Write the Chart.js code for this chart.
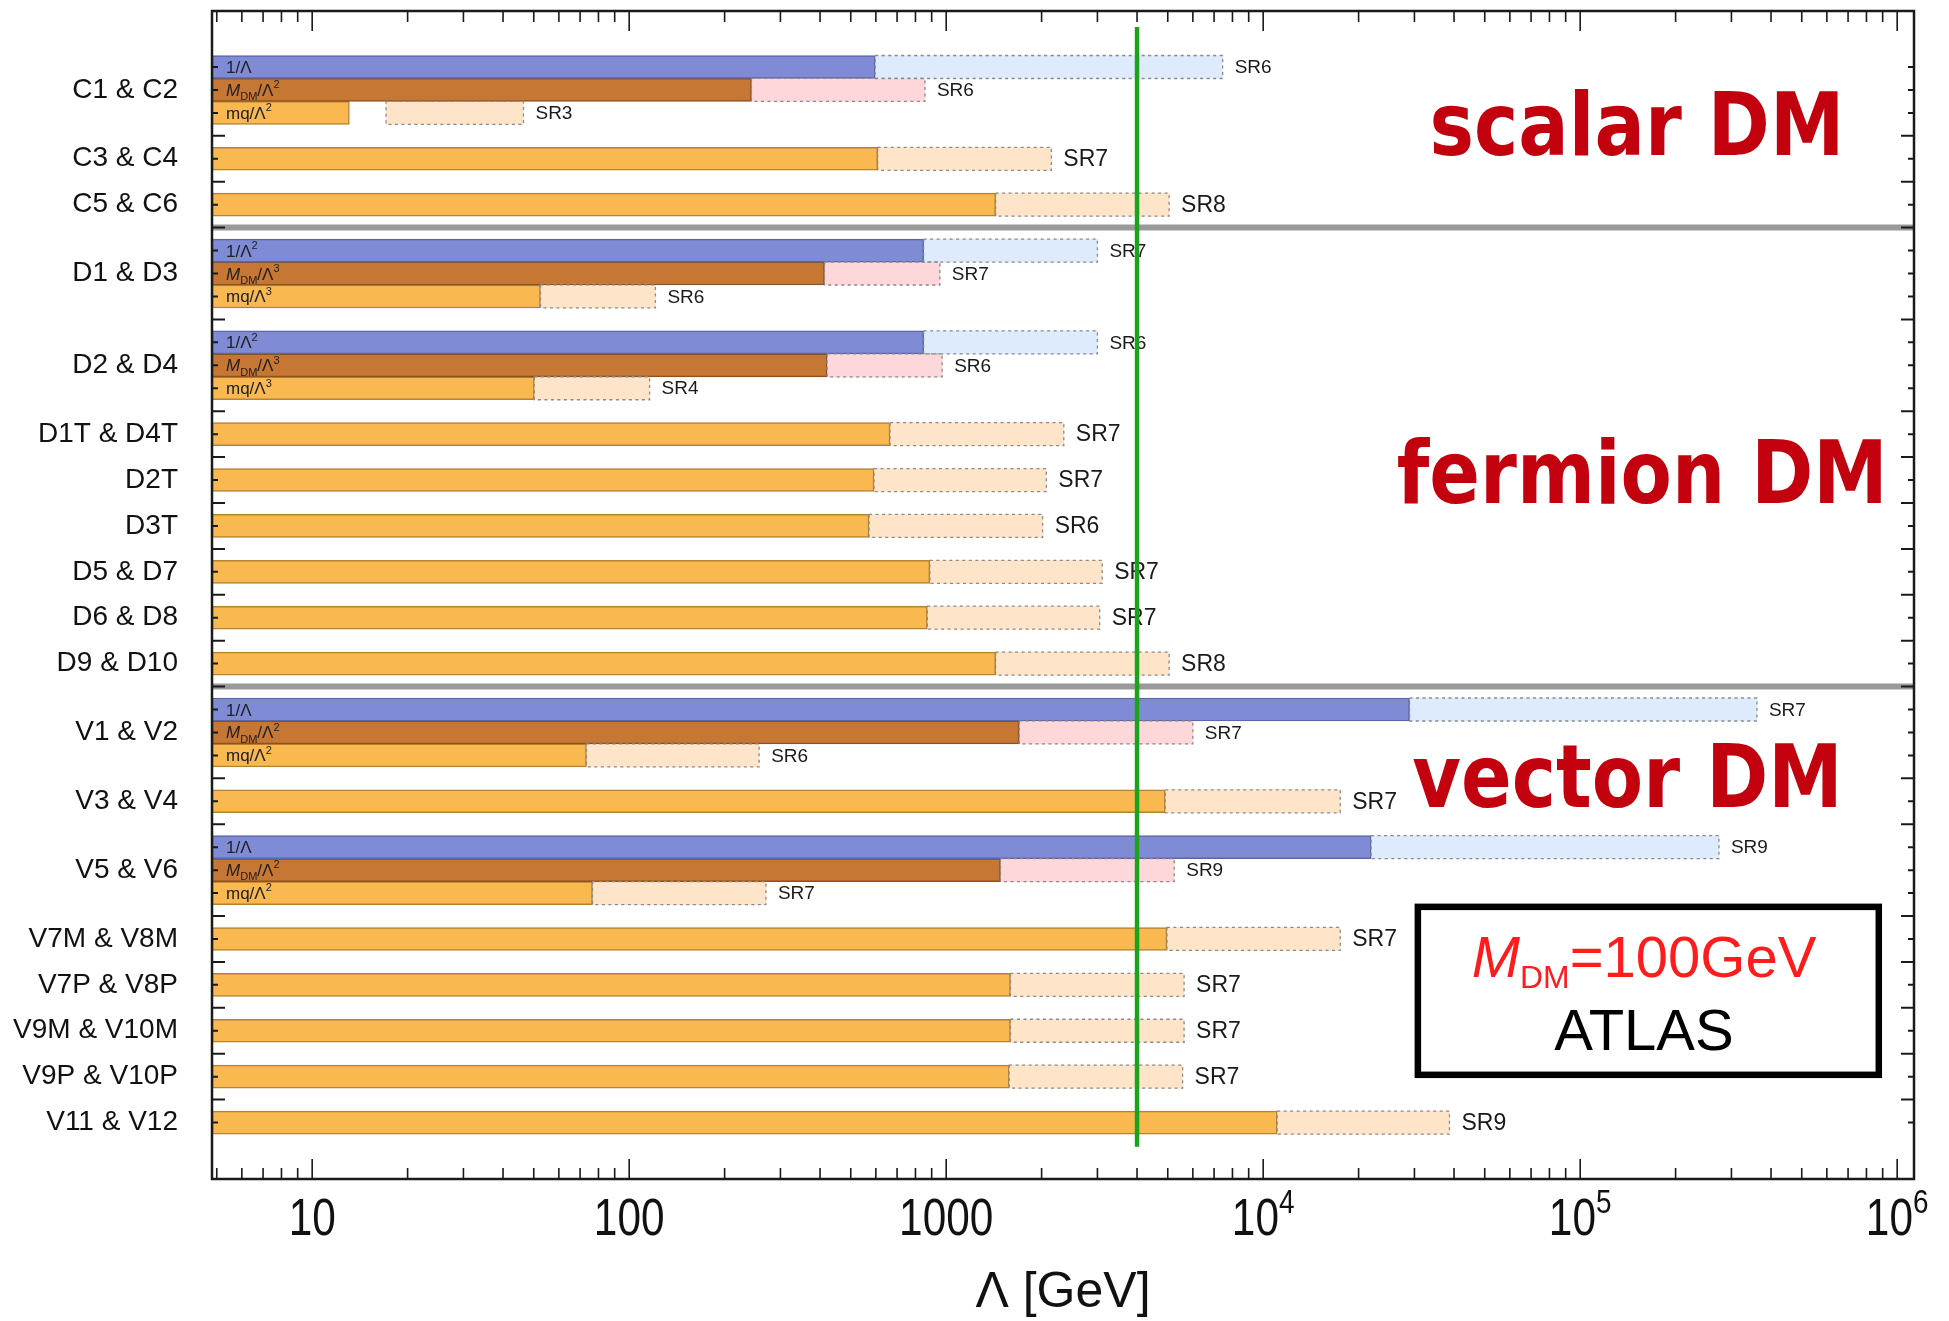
<!DOCTYPE html>
<html>
<head>
<meta charset="utf-8">
<script src="https://cdn.jsdelivr.net/npm/chart.js@4.4.1/dist/chart.umd.min.js"></script>
<style>
  html, body { margin: 0; padding: 0; background: #fff; }
  #wrap { width: 1949px; height: 1321px; }
</style>
</head>
<body>
<div id="wrap"><canvas id="limites" width="1949" height="1321"></canvas></div>
<script>
// operator groups, top to bottom
const operators = ['C1 & C2', 'C3 & C4', 'C5 & C6',
  'D1 & D3', 'D2 & D4', 'D1T & D4T', 'D2T', 'D3T', 'D5 & D7', 'D6 & D8', 'D9 & D10',
  'V1 & V2', 'V3 & V4', 'V5 & V6', 'V7M & V8M', 'V7P & V8P', 'V9M & V10M', 'V9P & V10P', 'V11 & V12'];
const sectionNames = ['scalar DM', 'fermion DM', 'vector DM'];
const sectionOf = [0, 0, 0, 1, 1, 1, 1, 1, 1, 1, 1, 2, 2, 2, 2, 2, 2, 2, 2];

// 1/Λ^n coupling (only the split groups have it)
const blueExcl  = [597, null, null, 849, 849, null, null, null, null, null, null, 28950, null, 21900, null, null, null, null, null];
const blueReach = [7450, null, null, 3000, 3000, null, null, null, null, null, null, 361000, null, 274000, null, null, null, null, null];
const blueSR    = ['SR6', null, null, 'SR7', 'SR6', null, null, null, null, null, null, 'SR7', null, 'SR9', null, null, null, null, null];
const blueTag   = ['1/Λ', null, null, '1/Λ^{2}', '1/Λ^{2}', null, null, null, null, null, null, '1/Λ', null, '1/Λ', null, null, null, null, null];

// M_DM/Λ^n coupling
const brownExcl  = [243, null, null, 413, 421, null, null, null, null, null, null, 1700, null, 1483, null, null, null, null, null];
const brownReach = [857, null, null, 955, 971, null, null, null, null, null, null, 6000, null, 5240, null, null, null, null, null];
const brownSR    = ['SR6', null, null, 'SR7', 'SR6', null, null, null, null, null, null, 'SR7', null, 'SR9', null, null, null, null, null];
const brownTag   = ['*M*_{DM}/Λ^{2}', null, null, '*M*_{DM}/Λ^{3}', '*M*_{DM}/Λ^{3}', null, null, null, null, null, null, '*M*_{DM}/Λ^{2}', null, '*M*_{DM}/Λ^{2}', null, null, null, null, null];

// mq/Λ^n coupling, or the single bar of the group
const orangeExcl  = [13.1, 608, 1432, 52.5, 50.2, 665, 592, 571, 888, 872, 1432, 73.3, 4910, 76.6, 4970, 1595, 1595, 1580, 11070];
const orangeFrom  = [17.1, null, null, null, null, null, null, null, null, null, null, null, null, null, null, null, null, null, null];
const orangeReach = [46.4, 2147, 5050, 121, 116, 2350, 2070, 2015, 3105, 3050, 5050, 257, 17500, 270, 17500, 5630, 5630, 5570, 38700];
const orangeSR    = ['SR3', 'SR7', 'SR8', 'SR6', 'SR4', 'SR7', 'SR7', 'SR6', 'SR7', 'SR7', 'SR8', 'SR6', 'SR7', 'SR7', 'SR7', 'SR7', 'SR7', 'SR7', 'SR9'];
const orangeTag   = ['mq/Λ^{2}', null, null, 'mq/Λ^{3}', 'mq/Λ^{3}', null, null, null, null, null, null, 'mq/Λ^{2}', null, 'mq/Λ^{2}', null, null, null, null, null];

const mDM = 100;          // GeV
const greenLimit = 4000;  // GeV
const xMajor = [10, 100, 1000, 1e4, 1e5, 1e6];
const xMajorLabels = ['10', '100', '1000', '10^{4}', '10^{5}', '10^{6}'];

const X_MIN = 4.83, X_MAX = 1.13e6;

// half-row slots: split groups take 3, others 1, one empty slot between groups
const slots = [];
const sepSlots = [];
let s = 0;
operators.forEach((op, i) => {
    const n = blueExcl[i] !== null ? 3 : 1;
    slots.push(Array.from({ length: n }, (_, k) => s + k));
    s += n;
    if (i < operators.length - 1 && sectionOf[i + 1] !== sectionOf[i]) sepSlots.push(s);
    s += 1;
});
const lastSlot = s - 2;
const usedSlots = new Set(slots.flat());
const labelAt = {};
slots.forEach((sl, i) => { labelAt[sl[Math.floor(sl.length / 2)]] = operators[i]; });

const subRow = (i, k) => slots[i].length === 3 ? slots[i][k] : slots[i][0];

function excl(values, tags, k) {
    const out = [];
    values.forEach((v, i) => { if (v !== null) out.push({ y: subRow(i, k), x: [X_MIN, v], tag: tags[i] }); });
    return out;
}
function reach(values, from, srs, k, start) {
    const out = [];
    values.forEach((v, i) => {
        if (v === null) return;
        const a = start && start[i] !== null ? start[i] : from[i];
        out.push({ y: subRow(i, k), x: [a, v], sr: srs[i], small: slots[i].length === 3 });
    });
    return out;
}

// tiny markup: *x* italic, _{x} subscript, ^{x} superscript
function drawRich(ctx, markup, x, y, size, o, measureOnly) {
    const re = /\*([^*]+)\*|_\{([^}]*)\}|\^\{([^}]*)\}|([^*_^]+)/g;
    let m, w = 0;
    while ((m = re.exec(markup))) {
        let text, font, dy = 0;
        if (m[1]) { text = m[1]; font = `italic ${size}px "Liberation Sans"`; }
        else if (m[2]) { text = m[2]; font = `${size * o.sub}px "Liberation Sans"`; dy = size * o.drop; }
        else if (m[3]) { text = m[3]; font = `${size * o.sub}px "Liberation Sans"`; dy = -size * o.rise; }
        else { text = m[4]; font = `${size}px "Liberation Sans"`; }
        ctx.font = font;
        if (!measureOnly) ctx.fillText(text, x + w, y + dy);
        w += ctx.measureText(text).width;
    }
    return w;
}

const decor = {
    id: 'decor',
    beforeDatasetDraw(chart, args) {
        if (chart.data.datasets[args.index].role !== 'limit') return;
        const ctx = chart.ctx;
        const area = chart.chartArea;
        chart.data.datasets.forEach((ds, d) => {
            if (ds.role !== 'reach') return;
            chart.getDatasetMeta(d).data.forEach((bar, j) => {
                const { x, y, base, height } = bar.getProps(['x', 'y', 'base', 'height'], true);
                ctx.save();
                ctx.setLineDash([3, 3.5]);
                ctx.strokeStyle = '#8a8a8a';
                ctx.lineWidth = 1.3;
                ctx.strokeRect(Math.min(x, base), y - height / 2, Math.abs(x - base), height);
                ctx.restore();
                ctx.fillStyle = '#1a1a1a';
                ctx.font = (ds.data[j].small ? 19 : 23) + 'px "Liberation Sans"';
                ctx.textAlign = 'left';
                ctx.textBaseline = 'middle';
                ctx.fillText(ds.data[j].sr, x + 12, y + 1);
            });
        });
        chart.data.datasets.forEach((ds, d) => {
            if (ds.role !== 'excl') return;
            chart.getDatasetMeta(d).data.forEach((bar, j) => {
                const tag = ds.data[j].tag;
                if (!tag) return;
                ctx.fillStyle = '#222';
                ctx.textAlign = 'left';
                ctx.textBaseline = 'alphabetic';
                drawRich(ctx, tag, area.left + 14, bar.y + 6, 17, { sub: 0.65, drop: 0.25, rise: 0.45 });
            });
        });
    },
    afterDraw(chart) {
        const ctx = chart.ctx;
        const area = chart.chartArea;
        const xs = chart.scales.x, ys = chart.scales.y;
        ctx.save();
        ctx.strokeStyle = '#1a1a1a';
        // x tick marks, top and bottom, pointing inwards
        ctx.lineWidth = 1.6;
        xs.ticks.forEach(t => {
            const px = xs.getPixelForValue(t.value);
            const len = t.major ? 20 : 11;
            ctx.beginPath();
            ctx.moveTo(px, area.bottom); ctx.lineTo(px, area.bottom - len);
            ctx.moveTo(px, area.top); ctx.lineTo(px, area.top + len);
            ctx.stroke();
        });
        // x tick labels, slightly condensed like the original
        ctx.fillStyle = '#111';
        ctx.textAlign = 'left';
        ctx.textBaseline = 'alphabetic';
        const supOpt = { sub: 0.66, drop: 0, rise: 0.43 };
        xMajor.forEach((v, k) => {
            ctx.save();
            ctx.translate(xs.getPixelForValue(v), area.bottom + 56);
            ctx.scale(0.83, 1);
            const w = drawRich(ctx, xMajorLabels[k], 0, 0, 51, supOpt, true);
            drawRich(ctx, xMajorLabels[k], -w / 2, 0, 51, supOpt);
            ctx.restore();
        });
        // y tick marks on every half row
        ctx.lineWidth = 2;
        for (let k = 0; k <= lastSlot; k++) {
            const py = ys.getPixelForValue(k);
            const len = usedSlots.has(k) ? 6 : 13;
            ctx.beginPath();
            ctx.moveTo(area.left, py); ctx.lineTo(area.left + len, py);
            ctx.moveTo(area.right, py); ctx.lineTo(area.right - len, py);
            ctx.stroke();
        }
        // frame
        ctx.lineWidth = 2.5;
        ctx.strokeRect(area.left, area.top, area.right - area.left, area.bottom - area.top);

        // section names
        const sectionAt = [[151000, 3.83], [157000, 19.0], [141000, 32.24]];
        ctx.fillStyle = '#c3000d';
        ctx.font = 'bold 88px "DejaVu Sans"';
        ctx.textAlign = 'center';
        sectionNames.forEach((name, k) => {
            ctx.save();
            ctx.translate(xs.getPixelForValue(sectionAt[k][0]), ys.getPixelForValue(sectionAt[k][1]));
            ctx.scale(0.85, 1);
            ctx.fillText(name, 0, 0);
            ctx.restore();
        });

        // info box
        const bx0 = xs.getPixelForValue(30760), bx1 = xs.getPixelForValue(875000);
        const by0 = ys.getPixelForValue(36.6), by1 = ys.getPixelForValue(43.92);
        ctx.lineWidth = 6.5;
        ctx.strokeStyle = '#000';
        ctx.strokeRect(bx0, by0, bx1 - bx0, by1 - by0);
        const cx = xs.getPixelForValue(159000);
        const massText = `*M*_{DM}=${mDM}GeV`;
        const opt = { sub: 0.55, drop: 0.2, rise: 0.45 };
        ctx.textAlign = 'left';
        const w = drawRich(ctx, massText, 0, 0, 58, opt, true);
        ctx.fillStyle = '#ff1c1c';
        drawRich(ctx, massText, cx - w / 2, ys.getPixelForValue(39.65), 58, opt);
        ctx.fillStyle = '#000';
        ctx.font = '58px "Liberation Sans"';
        ctx.textAlign = 'center';
        ctx.fillText('ATLAS', cx, ys.getPixelForValue(42.83));
        ctx.restore();
    }
};

const barStyle = { type: 'bar', grouped: false, barThickness: 23, borderSkipped: false };

new Chart(document.getElementById('limites'), {
    type: 'bar',
    data: {
        datasets: [
            { ...barStyle, role: 'excl', data: excl(blueExcl, blueTag, 0), backgroundColor: '#7f8bd4', borderColor: '#5c65a8', borderWidth: 1.5 },
            { ...barStyle, role: 'reach', data: reach(blueReach, blueExcl, blueSR, 0), backgroundColor: '#deebfc', borderWidth: 0 },
            { ...barStyle, role: 'excl', data: excl(brownExcl, brownTag, 1), backgroundColor: '#c77734', borderColor: '#8e501d', borderWidth: 1.5 },
            { ...barStyle, role: 'reach', data: reach(brownReach, brownExcl, brownSR, 1), backgroundColor: '#fdd7da', borderWidth: 0 },
            { ...barStyle, role: 'excl', data: excl(orangeExcl, orangeTag, 2), backgroundColor: '#f9b950', borderColor: '#b5822f', borderWidth: 1.5 },
            { ...barStyle, role: 'reach', data: reach(orangeReach, orangeExcl, orangeSR, 2, orangeFrom), backgroundColor: '#fee4c9', borderWidth: 0 },
            ...sepSlots.map(k => ({
                type: 'line', role: 'sep', data: [{ x: X_MIN, y: k }, { x: X_MAX, y: k }],
                borderColor: '#9a9a9a', borderWidth: 6, pointRadius: 0
            })),
            {
                type: 'line', role: 'limit', order: -1,
                data: [{ x: greenLimit, y: -1.74 }, { x: greenLimit, y: lastSlot + 1.06 }],
                borderColor: '#1ea11e', borderWidth: 4.5, pointRadius: 0
            }
        ]
    },
    options: {
        indexAxis: 'y',
        responsive: false,
        maintainAspectRatio: false,
        devicePixelRatio: 1,
        animation: false,
        events: [],
        layout: { padding: { top: 11, right: 35, left: 0, bottom: 0 } },
        plugins: { legend: { display: false }, tooltip: { enabled: false } },
        scales: {
            x: {
                type: 'logarithmic',
                min: X_MIN,
                max: X_MAX,
                grid: { display: false, drawTicks: false },
                border: { display: false },
                afterBuildTicks: (scale) => {
                    const t = [];
                    for (let e = 0; e <= 5; e++) {
                        for (let m = 1; m <= 9; m++) {
                            const v = m * Math.pow(10, e);
                            if (v >= X_MIN && v <= X_MAX) t.push({ value: v, major: xMajor.includes(v) });
                        }
                    }
                    t.push({ value: 1e6, major: true });
                    scale.ticks = t;
                },
                afterFit: (scale) => {
                    scale.height = 142;
                    scale.paddingLeft = 0;
                    scale.paddingRight = 0;
                },
                ticks: { display: false },
                title: {
                    display: true,
                    text: 'Λ [GeV]',
                    color: '#111',
                    font: { family: '"Liberation Sans"', size: 50, lineHeight: 1.12 },
                    padding: { top: 0, bottom: 0 }
                }
            },
            y: {
                type: 'linear',
                reverse: true,
                offset: false,
                min: -2.44,
                max: lastSlot + 2.46,
                grid: { display: false, drawTicks: false },
                border: { display: false },
                afterBuildTicks: (scale) => {
                    scale.ticks = Object.keys(labelAt).map(k => ({ value: Number(k) }));
                },
                afterFit: (scale) => {
                    scale.width = 212;
                    scale.paddingTop = 0;
                    scale.paddingBottom = 0;
                },
                ticks: {
                    autoSkip: false,
                    padding: 34,
                    color: '#111',
                    font: { family: '"Liberation Sans"', size: 28 },
                    callback: (v) => labelAt[v] || ''
                }
            }
        }
    },
    plugins: [decor]
});
</script>
</body>
</html>
